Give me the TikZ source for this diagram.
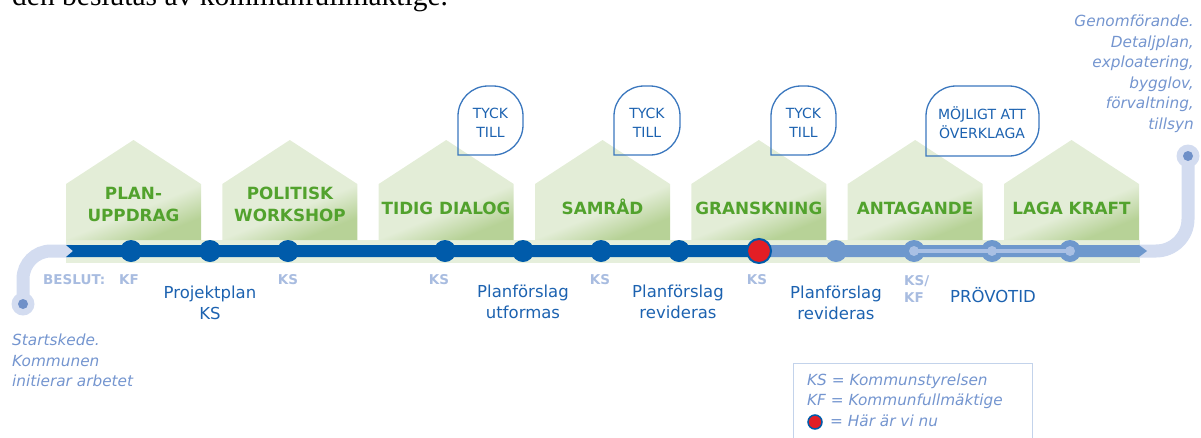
\documentclass[tikz,border=0pt]{standalone}
\usepackage{fontspec}
\setmainfont{DejaVu Sans}
\newfontfamily\docserif{Liberation Serif}
\definecolor{darkline}{HTML}{005BAA}
\definecolor{lightline}{HTML}{6E98CD}
\definecolor{paleline}{HTML}{D3DCF0}
\definecolor{innerpale}{HTML}{A9C0E4}
\definecolor{dotblue}{HTML}{6F90C8}
\definecolor{housetop}{HTML}{E3EDD7}
\definecolor{housebot}{HTML}{B7D297}
\definecolor{stripcol}{HTML}{E6EFDC}
\definecolor{phasegreen}{HTML}{52A22D}
\definecolor{textblue}{HTML}{1C62B0}
\definecolor{grayblue}{HTML}{A8BCE0}
\definecolor{italicblue}{HTML}{7495CF}
\definecolor{bubblecol}{HTML}{3A77BE}
\definecolor{reddot}{HTML}{E31E25}
\definecolor{legendborder}{HTML}{C3D3EB}
\pgfdeclareverticalshading{housegrad}{100bp}{color(0bp)=(housebot); color(27bp)=(housebot); color(41bp)=(housetop); color(100bp)=(housetop)}
\newcommand{\speechbubble}[5]{%
  \draw[bubble] (#1,#4) -- (#1,#2+#5)
    .. controls (#1,#2+0.448*#5) and (#1+0.448*#5,#2) .. (#1+#5,#2)
    -- (#3-#5,#2)
    .. controls (#3-0.448*#5,#2) and (#3,#2+0.448*#5) .. (#3,#2+#5)
    -- (#3,#4-#5)
    .. controls (#3,#4-0.448*#5) and (#3-0.448*#5,#4) .. (#3-#5,#4)
    -- cycle;}
\begin{document}
\begin{tikzpicture}[x=1pt,y=-1pt,
  house/.style={shading=housegrad, shading angle=22},
  phase/.style={text=phasegreen, font=\bfseries\fontsize{16.8}{22}\selectfont, align=center, inner sep=0},
  stn/.style={circle, fill=darkline, minimum size=22pt, inner sep=0},
  lstn/.style={circle, fill=lightline, minimum size=22pt, inner sep=0},
  innerdot/.style={circle, fill=innerpale, minimum size=10pt, inner sep=0},
  beslut/.style={text=grayblue, font=\bfseries\fontsize{13.5}{17}\selectfont, inner sep=0, align=left},
  steptext/.style={text=textblue, font=\fontsize{16.5}{21}\selectfont, align=center, inner sep=0},
  bubble/.style={draw=bubblecol, line width=1.3pt},
  bubbletext/.style={text=textblue, font=\fontsize{14}{19}\selectfont, align=center, inner sep=0},
  note/.style={text=italicblue, font=\itshape\fontsize{15.3}{20.5}\selectfont, inner sep=0},
  pale/.style={draw=paleline, line width=13pt},
]
\clip (0,0) rectangle (1201,437);
% cut document line at the top
\node[anchor=base west, inner sep=0, font=\docserif\fontsize{29.5}{30}\selectfont] (docline) at (12,5) {den beslutas av kommunfullmäktige.};
% strip behind the line
\fill[stripcol] (66,240) rectangle (1140,263);
% houses
\foreach \x in {66,222.3,378.7,535,691.3,847.7,1004} {
  \shade[house] (\x,240) -- (\x,184) -- (\x+67.5,140) -- (\x+135,184) -- (\x+135,240) -- cycle;
}
% phase labels
\node[phase] (p1) at (133.5,204.5) {PLAN-\\UPPDRAG};
\node[phase] (p2) at (290,204.5) {POLITISK\\WORKSHOP};
\node[phase, anchor=base] (p3) at (446,214) {TIDIG DIALOG};
\node[phase, anchor=base] (p4) at (602.5,214) {SAMRÅD};
\node[phase, anchor=base] (p5) at (758.8,214) {GRANSKNING};
\node[phase, anchor=base] (p6) at (915,214) {ANTAGANDE};
\node[phase, anchor=base] (p7) at (1071.5,214) {LAGA KRAFT};
% speech bubbles
\speechbubble{458}{86}{523}{155}{30}
\speechbubble{614}{86}{680}{155}{30}
\speechbubble{771}{86}{836}{155}{30}
\speechbubble{926}{86}{1039}{156}{30}
\node[bubbletext] (b1) at (490.5,122.5) {TYCK\\TILL};
\node[bubbletext] (b2) at (647,122.5) {TYCK\\TILL};
\node[bubbletext] (b3) at (803.5,122.5) {TYCK\\TILL};
\node[bubbletext] (b4) at (982,122.5) {MÖJLIGT ATT\\ÖVERKLAGA};
% pale start and end curves
\coordinate (startpt) at (23,304);
\coordinate (leftturn) at (23,251);
\coordinate (leftin) at (72,251);
\coordinate (rightout) at (1138,251);
\coordinate (rightturn) at (1188,251);
\coordinate (endpt) at (1188,156);
\draw[pale, rounded corners=28pt] (startpt) -- (leftturn) -- (leftin);
\draw[pale, rounded corners=32pt] (rightout) -- (rightturn) -- (endpt);
\node[circle, fill=paleline, minimum size=23pt, inner sep=0] (startdot) at (startpt) {};
\node[circle, fill=dotblue, minimum size=10pt, inner sep=0] at (startdot) {};
\node[circle, fill=paleline, minimum size=23pt, inner sep=0] (enddot) at (endpt) {};
\node[circle, fill=dotblue, minimum size=10pt, inner sep=0] at (enddot) {};
% main line
\fill[darkline] (66,245) -- (759,245) -- (759,257) -- (66,257) -- (73,251) -- cycle;
\fill[lightline] (759,245) -- (1139,245) -- (1147,251) -- (1139,257) -- (759,257) -- cycle;
% stations
\foreach \x [count=\i] in {131,210,288,445,523,601,679} {
  \node[stn] (d\i) at (\x,251) {};
}
\node[lstn] (l1) at (836,251) {};
\node[lstn] (l2) at (914,251) {};
\node[lstn] (l3) at (992,251) {};
\node[lstn] (l4) at (1070,251) {};
\draw[innerpale, line width=3.5pt] (l2.center) -- (l4.center);
\node[innerdot] at (l2) {};
\node[innerdot] at (l3) {};
\node[innerdot] at (l4) {};
\node[circle, fill=reddot, draw=darkline, line width=2pt, minimum size=24pt, inner sep=0] (here) at (759,251) {};
% decision labels
\node[beslut, anchor=west] (besl) at (43,280) {BESLUT:};
\node[beslut] (k1) at (129,280) {KF};
\node[beslut] (k2) at (288,280) {KS};
\node[beslut] (k3) at (439,280) {KS};
\node[beslut] (k4) at (600,280) {KS};
\node[beslut] (k5) at (757,280) {KS};
\node[beslut, anchor=west] (k6) at (904,288.5) {KS/\\KF};
% step texts
\node[steptext] (t1) at (210,302.5) {Projektplan\\KS};
\node[steptext] (t2) at (523,301.5) {Planförslag\\utformas};
\node[steptext] (t3) at (678,301.5) {Planförslag\\revideras};
\node[steptext] (t4) at (836,303) {Planförslag\\revideras};
\node[steptext] (t5) at (993,295) {PRÖVOTID};
% notes
\node[note, anchor=north west, align=left] (startnote) at (12,334) {Startskede.\\Kommunen\\initierar arbetet};
\node[note, anchor=north east, align=right] (endnote) at (1194,15) {Genomförande.\\Detaljplan,\\exploatering,\\bygglov,\\förvaltning,\\tillsyn};
% legend
\draw[legendborder, line width=1pt] (793,363) rectangle (1032,450);
\node[note, anchor=west] (lg1) at (807,381) {KS = Kommunstyrelsen};
\node[note, anchor=west] (lg2) at (807,401) {KF = Kommunfullmäktige};
\node[circle, fill=reddot, draw=darkline, line width=1.5pt, minimum size=14pt, inner sep=0] (lgdot) at (815,422) {};
\node[note, anchor=west] (lg3) at (830,421) {= Här är vi nu};
\end{tikzpicture}
\end{document}
